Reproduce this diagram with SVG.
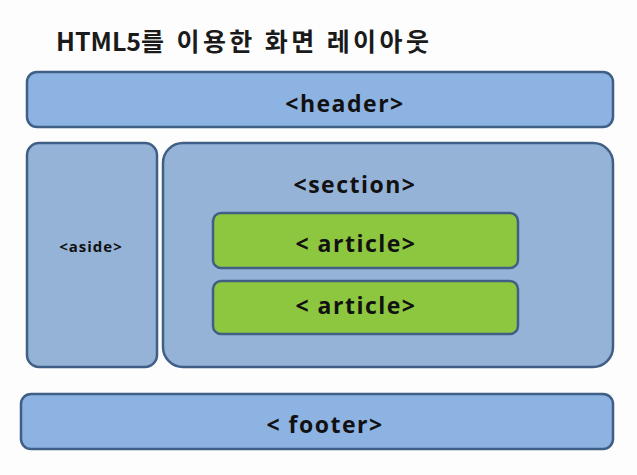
<svg xmlns="http://www.w3.org/2000/svg" width="637" height="475" viewBox="0 0 637 475">
<style>
.box{fill:#8db3e2;stroke:#3f5f86;stroke-width:2.5}
.pane{fill:#95b3d7;stroke:#3f5f86;stroke-width:2.5}
.art{fill:#8dc63f;stroke:#3f5f86;stroke-width:2.5}
text{font-family:"Open Sans","Noto Sans CJK KR",sans-serif;font-weight:bold;fill:#111;text-anchor:middle;letter-spacing:1.5px}
</style>
<rect width="637" height="475" fill="#fdfdfd"/>
<text x="56" y="51" style="text-anchor:start;font-size:25px;font-family:'Noto Sans CJK KR',sans-serif;font-weight:bold;fill:#1a1a1a"><tspan style="letter-spacing:0px">HTML5</tspan><tspan style="letter-spacing:3.4px">를 이용한 화면 레이아웃</tspan></text>
<g id="header"><rect class="box" x="27" y="72" width="586" height="55" rx="10"/><text x="345" y="112" font-size="23">&lt;header&gt;</text></g>
<g id="aside"><rect class="pane" x="27" y="143" width="130" height="224" rx="12"/><text x="91" y="252" font-size="15" style="letter-spacing:1px">&lt;aside&gt;</text></g>
<g id="section"><rect class="pane" x="163" y="143" width="450" height="224" rx="20"/><text x="355" y="193" font-size="23">&lt;section&gt;</text></g>
<g id="article1"><rect class="art" x="213" y="213" width="305" height="55" rx="8"/><text x="356" y="252" font-size="23">&lt; article&gt;</text></g>
<g id="article2"><rect class="art" x="213" y="281" width="305" height="53" rx="8"/><text x="356" y="314" font-size="23">&lt; article&gt;</text></g>
<g id="footer"><rect class="box" x="21" y="394" width="592" height="55" rx="10"/><text x="325" y="433" font-size="23">&lt; footer&gt;</text></g>
<g id="connectors"/>
</svg>
